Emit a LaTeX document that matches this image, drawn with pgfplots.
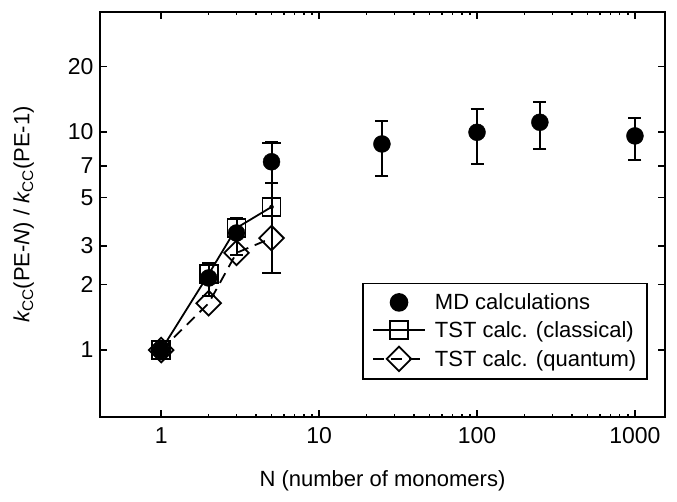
\documentclass[border=0pt]{standalone}
\usepackage{fontspec}
\setmainfont{Liberation Sans}
\usepackage{pgfplots}
\pgfplotsset{compat=1.18}
\begin{document}
\begin{tikzpicture}[x=1pt,y=1pt]
\useasboundingbox (0,0) rectangle (677,501);
\begin{axis}[
  at={(100pt,84pt)}, anchor=south west,
  scale only axis, width=565pt, height=405pt,
  xmode=log, ymode=log,
  xmin=0.41, xmax=1550, ymin=0.493, ymax=35.5,
  xtick={1,10,100,1000}, xticklabels={1,10,100,1000},
  ytick={1,2,3,5,7,10,20}, yticklabels={1,2,3,5,7,10,20},
  minor tick num=0, minor xtick={}, minor ytick={},
  tick align=inside, major tick length=7pt,
  axis line style={line width=2pt},
  every tick/.style={line width=1.6pt, black},
  tick label style={font=\fontsize{23}{26}\selectfont},
  xticklabel style={yshift=-7pt},
  yticklabel style={xshift=-3pt},
  label style={font=\fontsize{22}{26}\selectfont},
  xlabel={N (number of monomers)},
  ylabel={{\itshape k}\textsubscript{CC}(PE-{\itshape N}) / {\itshape k}\textsubscript{CC}(PE-1)},
  ylabel style={at={(axis description cs:-0.135,0.5)}, anchor=center},
  xlabel style={at={(axis description cs:0.5,-0.157)}, anchor=center},
  legend style={at={(0.970,0.0914)}, anchor=south east, draw=black, line width=1.6pt,
    font=\fontsize{22}{26}\selectfont, row sep=6pt, inner xsep=9pt, inner ysep=8pt,
    /tikz/every odd column/.append style={column sep=7pt},
    cells={anchor=west}},
  legend image code/.code={\draw[mark repeat=2,mark phase=2,#1] plot coordinates {(0pt,0pt) (26pt,0pt) (52pt,0pt)};},
]
% MD error bars
\addplot[forget plot, only marks, mark=none, black,
  error bars/.cd, y dir=both, y explicit,
  error bar style={line width=2pt, black},
  error mark options={rotate=90, mark size=6.5pt, line width=2pt, black}]
  coordinates {
  (2,2.14) += (0,0.37) -= (0,0.37)
  (3,3.44) += (0,0.60) -= (0,0.70)
  (5,7.30) += (0,1.72) -= (0,1.46)
  (25,8.81) += (0,2.39) -= (0,2.51)
  (100,9.97) += (0,2.78) -= (0,2.86)
  (250,11.08) += (0,2.69) -= (0,2.75)
  (1000,9.59) += (0,2.01) -= (0,2.17)
  };
% classical TST error bar
\addplot[forget plot, only marks, mark=none, black,
  error bars/.cd, y dir=both, y explicit,
  error bar style={line width=2pt, black},
  error mark options={rotate=90, mark size=9.5pt, line width=2pt, black}]
  coordinates {(5,4.53) += (0,4.40) -= (0,2.28)};
\addplot[only marks, mark=*, mark size=8.5pt, black] coordinates {
  (1,1) (2,2.14) (3,3.44) (5,7.30) (25,8.81) (100,9.97) (250,11.08) (1000,9.59)};
\addlegendentry{MD calculations}
\addplot[black, line width=1.8pt, mark=square, mark size=9pt] coordinates {
  (1,1) (2,2.23) (3,3.63) (5,4.53)};
\addlegendentry{TST calc. (classical)}
\addplot[black, line width=1.8pt, dash pattern=on 11pt off 7pt, mark=square, mark size=8.7pt, mark options={solid, rotate=45}] coordinates {
  (1,1) (2,1.64) (3,2.79) (5,3.26)};
\addlegendentry{TST calc. (quantum)}
\end{axis}
\end{tikzpicture}
\end{document}
